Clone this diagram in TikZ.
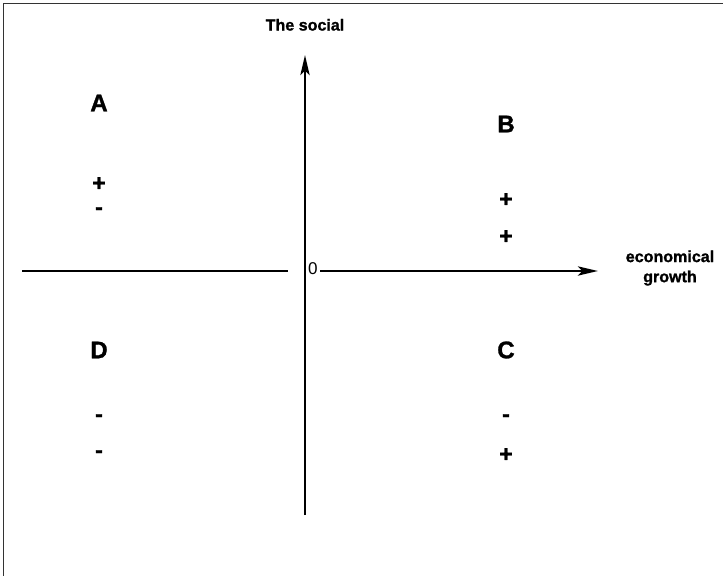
\documentclass[tikz,border=0pt]{standalone}
\usepackage{fontspec}
\setmainfont{Liberation Sans}[BoldFeatures={FakeBold=1.2}]
\usetikzlibrary{arrows.meta,positioning}
\tikzset{
  quadlabel/.style={font=\fontsize{24}{26}\selectfont\bfseries, inner sep=0pt},
  signlabel/.style={font=\fontsize{23}{25}\selectfont\bfseries, inner sep=0pt},
  axislabel/.style={font=\fontsize{16}{18}\selectfont\bfseries, inner sep=0pt, align=center},
  axisline/.style={line width=2.8pt},
  axisarc/.style={axisline, -{Stealth[length=7mm, width=3.2mm, inset=1.5mm]}},
  framing/.style={line width=0.8pt, draw=black!80},
}
\begin{document}
\begin{tikzpicture}[x=0.035cm, y=-0.035cm]
    \useasboundingbox (0,0) rectangle (723,576);
    % frame of the scan
    \coordinate (fTL) at (3,3);
    \coordinate (fTR) at (723,3);
    \coordinate (fBL) at (3,576);
    \draw[framing] (fBL) -- (fTL) -- (fTR);
    % axes
    \coordinate (origin) at (305,271);
    \coordinate (xleft) at (22,271);
    \coordinate (xgap) at (288,271);
    \coordinate (xstart) at (320,271);
    \coordinate (xend) at (598,271);
    \coordinate (ybottom) at (305,515);
    \coordinate (ytop) at (305,55);
    \draw[axisline] (xleft) -- (xgap);
    \draw[axisarc] (xstart) -- (xend);
    \draw[axisarc] (ybottom) -- (ytop);
    \node[font=\fontsize{17}{19}\selectfont, inner sep=0pt, anchor=south west] (zero) at (308,275) {0};
    \node[axislabel, above=24pt of ytop] (social) {The social};
    \node[axislabel] (growth) at (670,268) {economical\\[2pt]growth};
    % quadrants
    \node[quadlabel] (qA) at (99,103) {A};
    \node[signlabel] (aOne) at (99,184) {+};
    \node[signlabel] (aTwo) at (99,211) {-};
    \node[quadlabel] (qB) at (506,124) {B};
    \node[signlabel] (bOne) at (506,200) {+};
    \node[signlabel] (bTwo) at (506,237) {+};
    \node[quadlabel] (qD) at (99,350) {D};
    \node[signlabel] (dOne) at (99,418) {-};
    \node[signlabel] (dTwo) at (99,454) {-};
    \node[quadlabel] (qC) at (506,350) {C};
    \node[signlabel] (cOne) at (506,418) {-};
    \node[signlabel] (cTwo) at (506,455) {+};
\end{tikzpicture}
\end{document}
